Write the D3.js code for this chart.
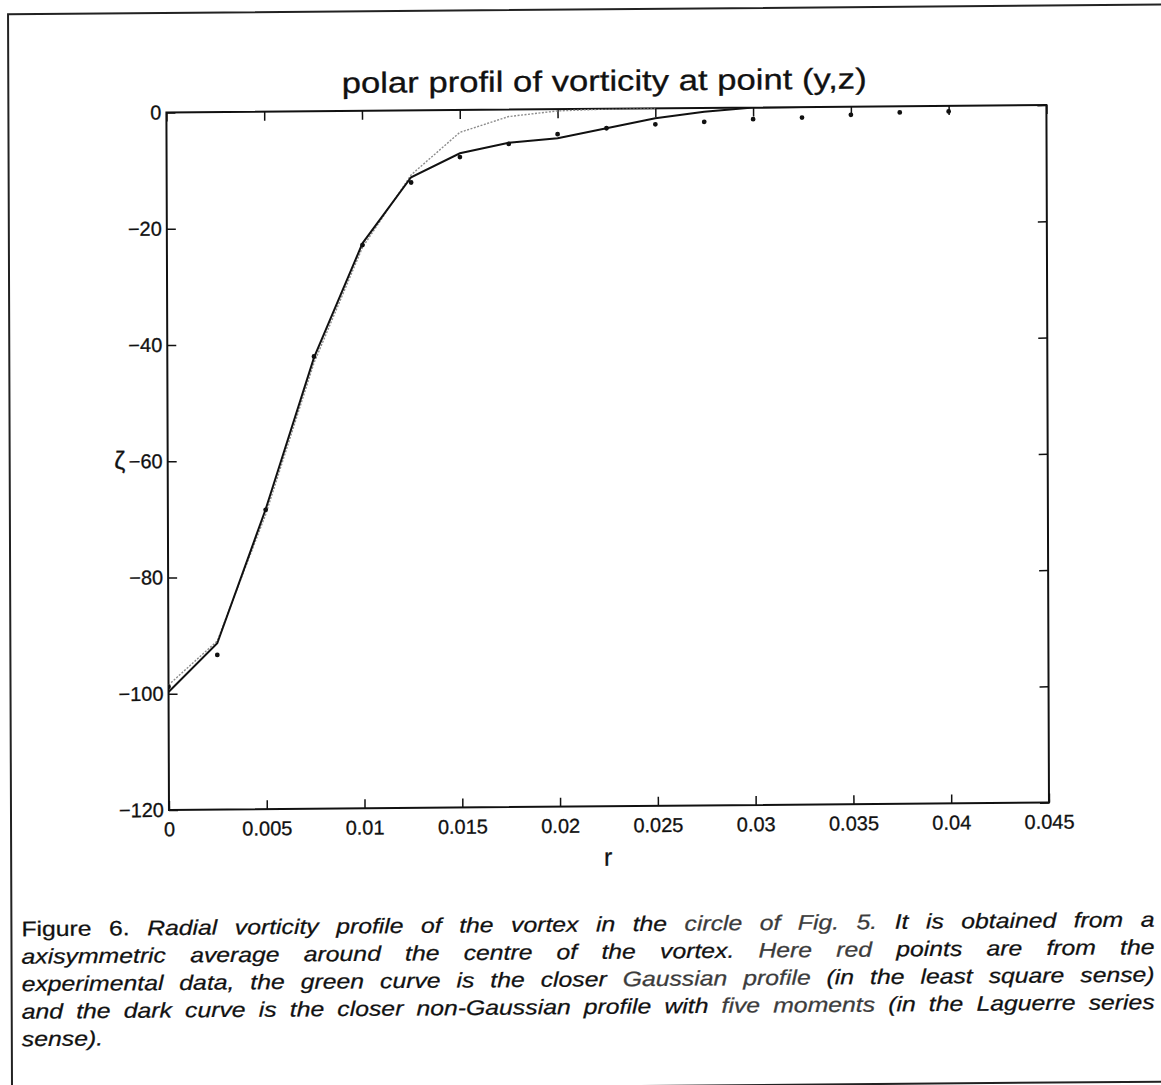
<!DOCTYPE html>
<html>
<head>
<meta charset="utf-8">
<title>polar profil of vorticity</title>
<script src="https://cdn.jsdelivr.net/npm/d3@7"></script>
<style>
  body { margin: 0; background: #fff; }
  svg { display: block; }
  text { font-family: "Liberation Sans", Arial, Helvetica, sans-serif; fill: #111; stroke: #111; stroke-width: 0.3px; }
</style>
</head>
<body>
<svg id="fig" width="1161" height="1085"></svg>
<script>
// axis ticks
const rTicks = [0, 0.005, 0.01, 0.015, 0.02, 0.025, 0.03, 0.035, 0.04, 0.045];
const zetaTicks = [-120, -100, -80, -60, -40, -20, 0];

// experimental points
const expR    = [0, 0.0025, 0.005, 0.0075, 0.01, 0.0125, 0.015, 0.0175, 0.02, 0.0225, 0.025, 0.0275, 0.03, 0.0325, 0.035, 0.0375, 0.04];
const expZeta = [-98.8, -93.4, -68.5, -42.2, -23.1, -12.4, -8.1, -5.9, -4.3, -3.35, -2.75, -2.4, -2.0, -1.8, -1.4, -1.05, -0.95];

// gaussian fit (light dotted curve)
const gaussR    = [0, 0.0025, 0.005, 0.0075, 0.01, 0.0125, 0.015, 0.0175, 0.02, 0.0225, 0.025];
const gaussZeta = [-98.5, -91.0, -69.3, -43.3, -23.5, -11.1, -3.85, -1.2, -0.3, -0.05, 0];

// laguerre fit, five moments (dark curve)
const lagR    = [0, 0.0025, 0.005, 0.0075, 0.01, 0.0125, 0.015, 0.0175, 0.02, 0.0225, 0.025, 0.0275, 0.03, 0.0325];
const lagZeta = [-99.7, -91.4, -68.4, -42.4, -22.8, -11.5, -7.45, -5.7, -5.0, -3.35, -1.7, -0.64, 0, 0];

const captionLines = [
  [["Figure 6.", "n"], ["Radial vorticity profile of the vortex in the", "i"], ["circle of Fig. 5.", "h"], ["It is obtained from a", "i"]],
  [["axisymmetric average around the centre of the vortex.", "i"], ["Here red", "h"], ["points are from the", "i"]],
  [["experimental data, the green curve is the closer", "i"], ["Gaussian profile", "h"], ["(in the least square sense)", "i"]],
  [["and the dark curve is the closer non-Gaussian profile with", "i"], ["five moments", "h"], ["(in the Laguerre series", "i"]],
  [["sense).", "i"]]
];

const box = { left: 168, right: 1048, top: 109, bottom: 806.5 };

const x = d3.scaleLinear().domain([0, 0.045]).range([box.left, box.right]);
const y = d3.scaleLinear().domain([-120, 0]).range([box.bottom, box.top]);

const svg = d3.select("#fig");
svg.append("rect").attr("width", 1161).attr("height", 1085).attr("fill", "#fff");

// the scanned page is a little skewed
const page = svg.append("g").attr("transform", "matrix(1,-0.0084,0.0037,1,-2,4.87)");

// page frame
page.append("path")
  .attr("d", "M10,1086.5V9.5H1220M10,1086.5H1220")
  .attr("fill", "none").attr("stroke", "#222").attr("stroke-width", 2);

// title
page.append("text")
  .attr("x", 343.4).attr("y", 91)
  .attr("textLength", 525).attr("lengthAdjust", "spacingAndGlyphs")
  .style("font-size", "29px")
  .text("polar profil of vorticity at point (y,z)");

// axes
const fmtR = d => String(+d.toFixed(3));
const gx = page.append("g").attr("transform", `translate(0,${box.bottom})`)
  .call(d3.axisBottom(x).tickValues(rTicks).tickSize(-9).tickPadding(12).tickFormat(fmtR));
const gxTop = page.append("g").attr("transform", `translate(0,${box.top})`)
  .call(d3.axisTop(x).tickValues(rTicks).tickSize(-9).tickFormat(""));
const gy = page.append("g").attr("transform", `translate(${box.left},0)`)
  .call(d3.axisLeft(y).tickValues(zetaTicks).tickSize(-9).tickPadding(5).tickFormat(d3.format("d")));
const gyRight = page.append("g").attr("transform", `translate(${box.right},0)`)
  .call(d3.axisRight(y).tickValues(zetaTicks).tickSize(-9).tickFormat(""));

[gx, gxTop, gy, gyRight].forEach(g => {
  g.select(".domain").remove();
  g.selectAll(".tick line").attr("stroke", "#111").attr("stroke-width", 1.5);
  g.selectAll(".tick text").style("font-size", "20px")
    .style("font-family", "'Liberation Sans', Arial, sans-serif")
    .attr("fill", "#111").attr("stroke", "#111").attr("stroke-width", 0.3);
});

page.append("rect")
  .attr("x", box.left).attr("y", box.top)
  .attr("width", box.right - box.left).attr("height", box.bottom - box.top)
  .attr("fill", "none").attr("stroke", "#111").attr("stroke-width", 2);

// axis labels
page.append("text").attr("x", 607).attr("y", 866).attr("text-anchor", "middle")
  .style("font-size", "25px").text("r");
page.append("text").attr("x", 120).attr("y", 465).attr("text-anchor", "middle")
  .style("font-size", "25px").text("ζ");

// curves
page.append("clipPath").attr("id", "clip").append("rect")
  .attr("x", box.left).attr("y", box.top)
  .attr("width", box.right - box.left).attr("height", box.bottom - box.top);
const plot = page.append("g").attr("clip-path", "url(#clip)");

const line = d3.line().x(d => x(d[0])).y(d => y(d[1]));

plot.append("path")
  .datum(d3.zip(gaussR, gaussZeta))
  .attr("d", line)
  .attr("fill", "none").attr("stroke", "#8c8c8c").attr("stroke-width", 1.4)
  .attr("stroke-dasharray", "2,1.5");

plot.append("path")
  .datum(d3.zip(lagR, lagZeta))
  .attr("d", line)
  .attr("fill", "none").attr("stroke", "#111").attr("stroke-width", 2);

plot.selectAll("circle.exp")
  .data(d3.zip(expR, expZeta))
  .join("circle").attr("class", "exp")
  .attr("cx", d => x(d[0])).attr("cy", d => y(d[1]))
  .attr("r", 2.4).attr("fill", "#111");

// caption, justified by spreading the words
const capLeft = 20, capWidth = 1133, sx = 1.18, capTop = 931.5, capStep = 27.5;
captionLines.forEach((parts, i) => {
  const g = page.append("g").attr("transform", `translate(${capLeft},${capTop + i * capStep}) scale(${sx},1)`);
  const words = [];
  parts.forEach(([txt, kind]) => txt.split(" ").forEach(w => words.push({ w, kind })));
  const nodes = words.map(d => g.append("text")
    .style("font-size", "21px")
    .style("font-style", d.kind === "n" ? "normal" : "italic")
    .style("fill", d.kind === "h" ? "#3c3c3c" : "#111")
    .style("stroke", d.kind === "h" ? "#3c3c3c" : "#111")
    .style("stroke-width", "0.25px")
    .text(d.w));
  const widths = nodes.map(n => n.node().getComputedTextLength());
  const total = d3.sum(widths);
  const last = i === captionLines.length - 1;
  const gap = last ? 21 * 0.278 : (capWidth / sx - total) / (words.length - 1);
  let cx = 0;
  nodes.forEach((n, k) => { n.attr("x", cx); cx += widths[k] + gap; });
});
</script>
</body>
</html>
